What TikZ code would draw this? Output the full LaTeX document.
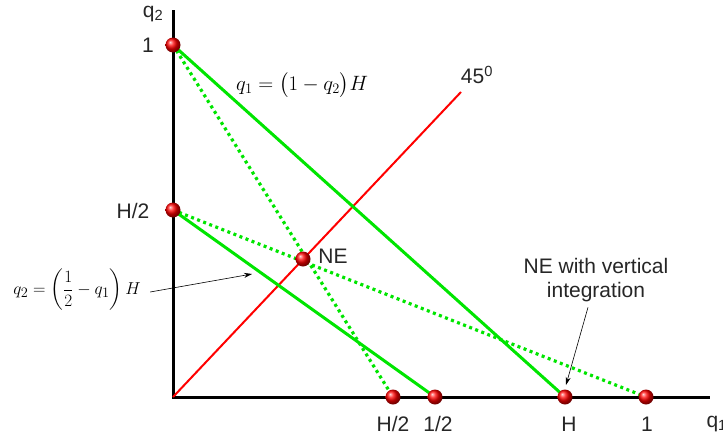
\documentclass[tikz,border=0pt]{standalone}
\usepackage{amsmath}
\usepackage{fontspec}
\setmainfont{Liberation Sans}
\usetikzlibrary{arrows.meta}
\begin{document}
\begin{tikzpicture}[x=1pt,y=-1pt,
  dotpt/.style={circle,inner sep=0pt,minimum size=15pt,ball color=red,shading=ball},
  lbl/.style={font=\fontsize{21}{24}\selectfont,text=black!85},
  grn/.style={draw=green!90!black,line width=3pt},
  grndot/.style={draw=green!90!black,line width=3.2pt,dash pattern=on 3pt off 3.5pt},
  ax/.style={draw=black,line width=3pt},
  thinarrow/.style={draw=black,line width=0.6pt,-{Stealth[length=8pt,width=5pt]}}]
\useasboundingbox (0,0) rectangle (723,442);
% axes
\coordinate (O) at (173,397);
\coordinate (ytop) at (173,10);
\coordinate (xend) at (710,397);
\draw[ax] (ytop) -- (O) -- (xend);
\node[lbl] (q2) at (153,14) {q\textsubscript{2}};
\node[lbl,anchor=west] (q1) at (703,424) {q\textsubscript{1}};
% points
\coordinate (Y1) at (173,45);
\coordinate (YH) at (173,210);
\coordinate (XH2) at (393,397);
\coordinate (Xhalf) at (435,397);
\coordinate (XH) at (565,397);
\coordinate (X1) at (646,397);
\coordinate (NEp) at (303,259);
% red 45 line
\coordinate (R) at (461,92);
\draw[red,line width=2pt] (O) -- (R);
\node[lbl] (deg) at (477,75) {45\textsuperscript{0}};
% lines
\draw[grn] (Y1) -- (XH);
\draw[grn] (YH) -- (Xhalf);
\draw[grndot] (Y1) -- (XH2);
\draw[grndot] (YH) -- (X1);
% dots
\foreach \p in {Y1,YH,XH2,Xhalf,XH,X1,NEp} \node[dotpt] at (\p) {};
% axis labels
\node[lbl] (l1) at (148,45) {1};
\node[lbl] (lH2) at (133,211) {H/2};
\node[lbl] (xl1) at (393,424) {H/2};
\node[lbl] (xl2) at (438,424) {1/2};
\node[lbl] (xl3) at (569,424) {H};
\node[lbl] (xl4) at (647,424) {1};
\node[lbl] (ne) at (333,256) {NE};
% formulas
\node (f1) at (302,85) {\fontsize{20}{23}\selectfont $q_1=\bigl(1-q_2\bigr)H$};
\node (f2) at (77,290) {\fontsize{19}{22}\selectfont $q_2=\left(\dfrac{1}{2}-q_1\right)H$};
\coordinate (a2) at (252,274);
\draw[thinarrow] (f2.east) ++(6,2) -- (a2);
% NE with vertical integration
\node[lbl,align=center] (vi) at (596,280) {NE with vertical\\integration};
\coordinate (a3) at (566,385);
\draw[thinarrow] (vi.south) ++(-8,2) -- (a3);
\end{tikzpicture}
\end{document}
